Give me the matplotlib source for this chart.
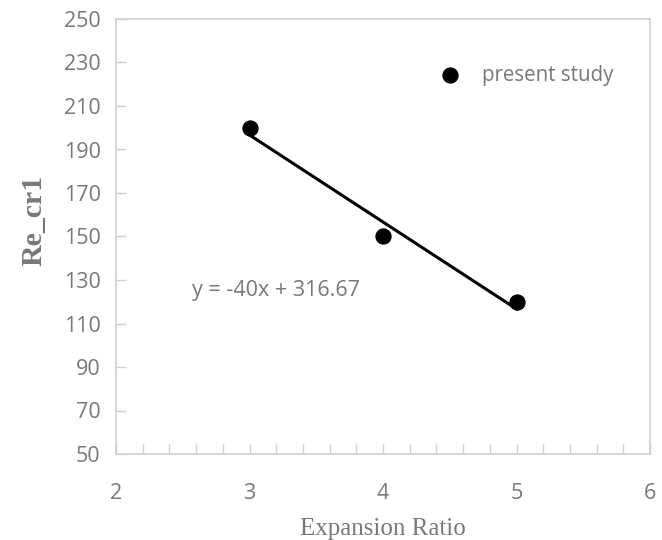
import numpy as np
import matplotlib
matplotlib.use("Agg")
import matplotlib.pyplot as plt
from matplotlib.ticker import MultipleLocator

# data
expansion_ratio = [3, 4, 5]
re_cr1 = [200, 150, 120]
fit_slope = -40
fit_intercept = 316.67
x_ticks = [2, 3, 4, 5, 6]
y_ticks = [50, 70, 90, 110, 130, 150, 170, 190, 210, 230, 250]

grey = "#7a7777"
spine_grey = "#d0d0d0"

fig = plt.figure(figsize=(6.62, 5.40), dpi=100)
ax = fig.add_axes([116/662, 1 - 454/540, 534/662, 435/540])

# trend line over the data range
xf = np.array([min(expansion_ratio), max(expansion_ratio)])
ax.plot(xf, fit_slope * xf + fit_intercept, color="black", lw=2.2, zorder=2)
ax.scatter(expansion_ratio, re_cr1, s=115, color="black", zorder=3,
           label="present study")

ax.set_xlim(2, 6)
ax.set_ylim(50, 250)
ax.set_xticks(x_ticks)
ax.set_yticks(y_ticks)
ax.xaxis.set_minor_locator(MultipleLocator(0.2))

for s in ax.spines.values():
    s.set_color(spine_grey)
    s.set_linewidth(1.2)
ax.tick_params(which="both", direction="in", length=7, width=1,
               color=spine_grey, labelcolor=grey, labelsize=15.5)
ax.tick_params(axis="x", which="major", pad=21)
ax.tick_params(axis="y", which="major", pad=11)
for lab in ax.get_xticklabels() + ax.get_yticklabels():
    lab.set_family("Open Sans")

ax.set_xlabel("Expansion Ratio", family="Liberation Serif", fontsize=18,
              color=grey, labelpad=10)
ax.set_ylabel("Re_cr1", family="Liberation Serif", fontsize=21.5,
              fontweight="bold", color=grey)
ax.yaxis.set_label_coords(-0.128, 0.536)

ax.text(2.57, 125, "y = -40x + 316.67", family="Open Sans", fontsize=15.5,
        color=grey, va="center", ha="left")

leg = ax.legend(loc="center left", bbox_to_anchor=(0.607, 0.871), frameon=False,
                prop={"family": "Open Sans", "size": 14.8}, borderpad=0,
                borderaxespad=0, handlelength=1, handletextpad=1.05)
for t in leg.get_texts():
    t.set_color(grey)

fig.savefig("out.png", dpi=100)
